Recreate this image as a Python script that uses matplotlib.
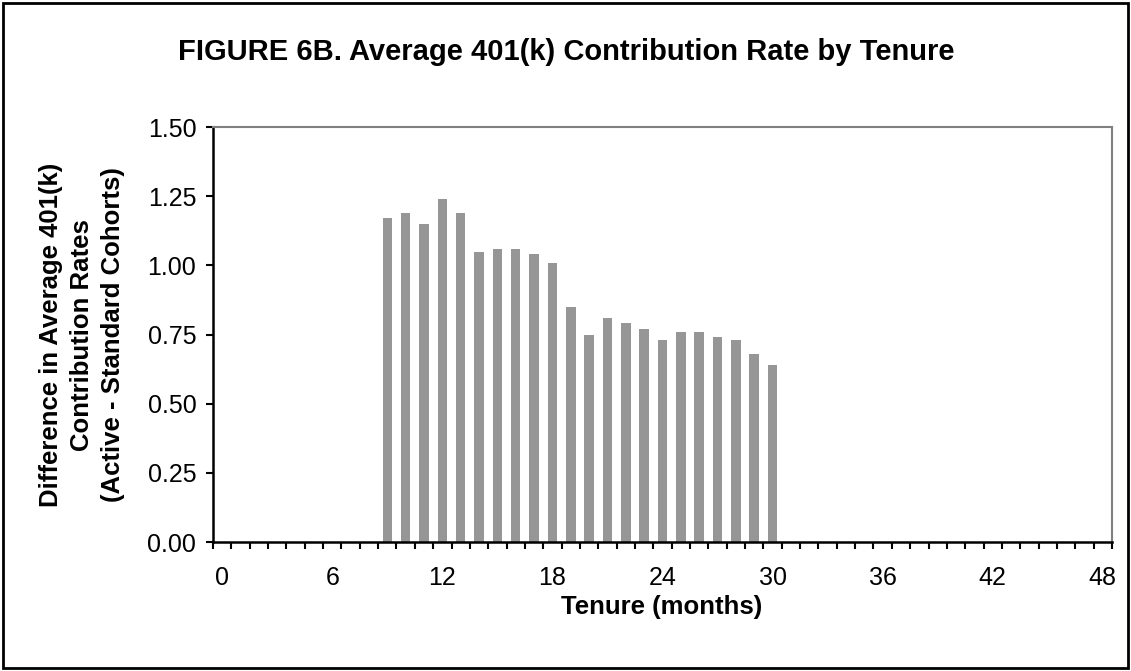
import numpy as np
import matplotlib.pyplot as plt
from matplotlib.patches import Rectangle

plt.rcParams['font.family'] = ['Liberation Sans', 'DejaVu Sans']

# --- data ---
tenure = list(range(9, 31))
diff = [1.17, 1.19, 1.15, 1.24, 1.19, 1.05, 1.06, 1.06, 1.04, 1.01, 0.85,
        0.75, 0.81, 0.79, 0.77, 0.73, 0.76, 0.76, 0.74, 0.73, 0.68, 0.64]
xlabels = [0, 6, 12, 18, 24, 30, 36, 42, 48]
ylabels = [0.0, 0.25, 0.5, 0.75, 1.0, 1.25, 1.5]

fig = plt.figure(figsize=(11.31, 6.71), dpi=100)
ax = fig.add_axes([213/1131, 1 - 542/671, (1112-213)/1131, (542-127)/671])

ax.bar(tenure, diff, width=0.52, color='#969696', zorder=2)

ax.set_xlim(-0.5, 48.5)
ax.set_ylim(0, 1.5)

# category-style axis: tick marks on boundaries, labels centred in categories
ax.set_xticks(np.arange(-0.5, 49, 1))
ax.set_xticklabels([])
ax.set_xticks(xlabels, minor=True)
ax.set_xticklabels([str(v) for v in xlabels], minor=True, fontsize=18)
ax.tick_params(axis='x', which='major', direction='out', length=5, width=1.5, color='black')
ax.tick_params(axis='x', which='minor', length=0, pad=17)

ax.set_yticks(ylabels)
ax.set_yticklabels([f'{v:.2f}' for v in ylabels], fontsize=18)
ax.tick_params(axis='y', direction='out', length=5, width=1.5, pad=7)

for s in ['left', 'bottom']:
    ax.spines[s].set_color('black')
    ax.spines[s].set_linewidth(1.8)
for s in ['top', 'right']:
    ax.spines[s].set_color('#808080')
    ax.spines[s].set_linewidth(1.5)

fig.text(662/1131, 1 - 607/671, 'Tenure (months)', ha='center', va='center',
         fontsize=18.5, fontweight='bold')
fig.text(82/1131, 1 - 335/671,
         'Difference in Average 401(k)\nContribution Rates\n(Active - Standard Cohorts)',
         ha='center', va='center', rotation=90, multialignment='center',
         fontsize=18.5, fontweight='bold', linespacing=1.35)

fig.text(566/1131, 1 - 52/671, 'FIGURE 6B. Average 401(k) Contribution Rate by Tenure',
         ha='center', va='center', fontsize=21, fontweight='bold')

# outer chart border
fig.patches.append(Rectangle((0.003, 0.004), 0.994, 0.992, transform=fig.transFigure,
                             fill=False, edgecolor='black', linewidth=2))

fig.savefig('out.png', dpi=100)
